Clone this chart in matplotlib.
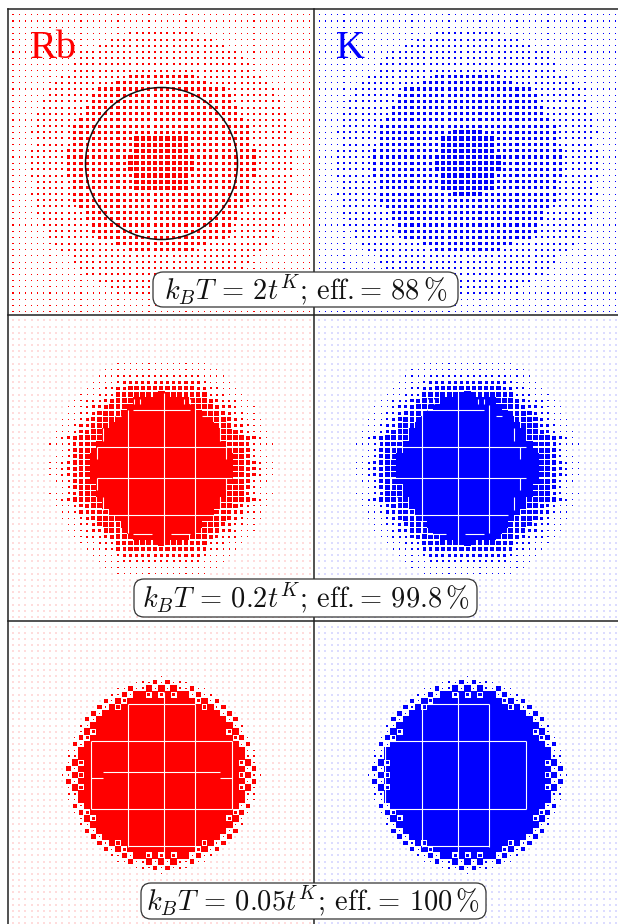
import matplotlib
matplotlib.use('Agg')
import matplotlib.pyplot as plt
from matplotlib.patches import Circle, FancyBboxPatch

plt.rcParams['mathtext.fontset'] = 'cm'

# one quarter of each lattice, rows from the centre outwards, columns from the centre outwards
# digit = square size, 6 = touching neighbours, sites past the end of a row use the panel background
rb_top = [
    '4444443333333333222222',
    '4444443333333333222222',
    '4444433333333333222222',
    '444443333333333222222',
    '444443333333333222222',
    '3333333333333332222222',
    '333333333333333222222',
    '333333333333332222222',
    '333333333333322222222',
    '33333333333332222222',
    '33333333333322222222',
    '3333333333332222222',
    '3333333333322222222',
    '333333332222222222',
    '33333322222222222',
    '222222222222222',
    '222222222222222',
    '22222222222222',
    '2222222222222',
    '22222222222',
    '222222222',
    '222222',
]
k_top = [
    '4444443333333333222222',
    '4444443333333333222222',
    '4444433333333333222222',
    '444443333333333222222',
    '444443333333333222222',
    '4443333333333332222222',
    '333333333333333222222',
    '333333333333332222222',
    '333333333333322222222',
    '33333333333332222222',
    '33333333333322222222',
    '3333333333332222222',
    '3333333333322222222',
    '333333332222222222',
    '33333322222222222',
    '222222222222222',
    '222222222222222',
    '22222222222222',
    '2222222222222',
    '22222222222',
    '222222222',
    '222222',
]
rb_mid = [
    '6666666666665543211',
    '6666666666665543211',
    '666666666666554211',
    '66666666666555421',
    '6666666666655532111',
    '666666666655554321',
    '666666666655432111',
    '66666666655433211',
    '66666666555432111',
    '6666666555432211',
    '6666665554332111',
    '666665554322211',
    '65555444222111',
    '4444443322111',
    '333333321111',
    '22222221111',
    '1111111111',
    '11111111',
]
k_mid = rb_mid
rb_low = [
    '66666666666663611',
    '6666666666666615',
    '6666666666666361',
    '6666666666666622',
    '6666666666666611',
    '666666666666614',
    '666666666666351',
    '666666666663 61'.replace(' ', ''),
    '66666666666612',
    '6666666666614',
    '666666666615',
    '66666663615',
    '6666663614',
    '363661512',
    '61621411',
    '14121',
    '1',
]
k_low = rb_low

# white seams in the filled discs: (x, start, end)
seams_mid_v = [(127.7, 410, 533), (164.3, 393, 550), (195.3, 405, 533), (96.7, 447, 459), (96.7, 478, 490),
               (226.3, 447, 459), (226.3, 478, 490), (102.7, 428, 441), (220.3, 428, 441), (102.7, 497, 510),
               (220.3, 497, 510), (133.7, 399, 404), (139.7, 399, 404), (183.7, 399, 404), (189.7, 399, 404)]
seams_mid_h = [(410.3, 133, 190), (447.3, 97, 232), (478.3, 97, 232), (515.3, 109, 214),
               (534.3, 133, 152), (534.3, 171, 190), (416.3, 115, 121), (416.3, 202, 208)]
seams_low_v = [(90.7, 741, 809), (127.7, 704, 847), (164.3, 692, 870), (195.3, 704, 847), (232.3, 741, 809)]
seams_low_h = [(704.3, 128, 195), (741.3, 91, 232), (809.3, 91, 232), (846.3, 128, 195)]
seams_low_rb = [(772.0, 103, 220), (778.3, 91, 103), (778.3, 220, 232)]

labels = [r'$k_BT\,=\,2t^K$; eff.$=\,88\,\%$', r'$k_BT\,=\,0.2t^K$; eff.$=\,99.8\,\%$',
          r'$k_BT\,=\,0.05t^K$; eff.$=\,100\,\%$']
label_boxes = [(153, 272, 458, 307), (134, 579, 477, 617), (141, 883, 486, 919)]

pitch = 6.18
rb_x = 161.3
k_x = 467.6
row_y = [163.2, 468.7, 775.0]
n_sites = 24
sizes = {'1': 1.15, '2': 2.0, '3': 3.1, '4': 4.2, '5': 4.9, '6': 6.5}


def draw_lattice(ax, rows, cx, cy, color, pale, background):
    done = {}
    for b in range(n_sites + 1):
        row = rows[b] if b < len(rows) else ''
        for a in range(n_sites + 1):
            done[(a, b)] = row[a] if a < len(row) else background
    pale_x, pale_y, xs, ys, ss = [], [], [], [], []
    for (a, b), code in done.items():
        for sx, sy in {(1, 1), (1, -1), (-1, 1), (-1, -1)}:
            if sx == -1 and a == 0:
                continue
            if sy == -1 and b == 0:
                continue
            x = cx + sx * a * pitch
            y = cy + sy * b * pitch
            if code == '.':
                pale_x.append(x)
                pale_y.append(y)
            else:
                xs.append(x)
                ys.append(y)
                ss.append((sizes[code] * 0.72) ** 2)
    if pale_x:
        ax.scatter(pale_x, pale_y, s=(2.4 * 0.72) ** 2, marker='s', color=pale, linewidths=0)
    ax.scatter(xs, ys, s=ss, marker='s', color=color, linewidths=0)


def draw_seams(ax, vert, horiz, shift=0):
    for x, y0, y1 in vert:
        ax.plot([x + shift, x + shift], [y0, y1], color='white', lw=0.8, solid_capstyle='butt')
    for y, x0, x1 in horiz:
        ax.plot([x0 + shift, x1 + shift], [y, y], color='white', lw=0.8, solid_capstyle='butt')


fig = plt.figure(figsize=(6.18, 9.24), dpi=100)
ax = fig.add_axes([0, 0, 1, 1])
ax.set_xlim(0, 618)
ax.set_ylim(924, 0)
ax.axis('off')

draw_lattice(ax, rb_top, rb_x, row_y[0], '#ff0000', '#ffdcdc', '1')
draw_lattice(ax, k_top, k_x, row_y[0], '#0000ff', '#dcdcff', '1')
draw_lattice(ax, rb_mid, rb_x, row_y[1], '#ff0000', '#ffdcdc', '.')
draw_lattice(ax, k_mid, k_x, row_y[1], '#0000ff', '#dcdcff', '.')
draw_lattice(ax, rb_low, rb_x, row_y[2], '#ff0000', '#ffdcdc', '.')
draw_lattice(ax, k_low, k_x, row_y[2], '#0000ff', '#dcdcff', '.')

draw_seams(ax, seams_mid_v, seams_mid_h)
draw_seams(ax, seams_mid_v, seams_mid_h, 294)
draw_seams(ax, seams_low_v, seams_low_h + seams_low_rb)
draw_seams(ax, seams_low_v, seams_low_h, 294)

# frame
ax.plot([7.5, 7.5], [9, 924], color='#222222', lw=1.1)
ax.plot([314, 314], [9, 924], color='#222222', lw=1.1)
for y in [9, 315, 621]:
    ax.plot([7.5, 618], [y, y], color='#222222', lw=1.1)

ax.add_patch(Circle((161.5, 163.5), 76, fill=False, edgecolor='#111111', lw=1.1, zorder=5))

ax.text(30, 58, 'Rb', color='red', fontsize=29, family='Liberation Serif', zorder=6)
ax.text(336, 58, 'K', color='blue', fontsize=29, family='Liberation Serif', zorder=6)

for text, (x0, y0, x1, y1) in zip(labels, label_boxes):
    ax.add_patch(FancyBboxPatch((x0 + 10, y0 + 10), x1 - x0 - 20, y1 - y0 - 20,
                                boxstyle='round,pad=10,rounding_size=10', facecolor='white',
                                edgecolor='#333333', lw=0.9, zorder=6))
    ax.text((x0 + x1) / 2, (y0 + y1) / 2 + 1, text, ha='center', va='center', fontsize=20.5,
            family='cmr10', color='#111111', zorder=7)

fig.savefig('out.png', dpi=100)
